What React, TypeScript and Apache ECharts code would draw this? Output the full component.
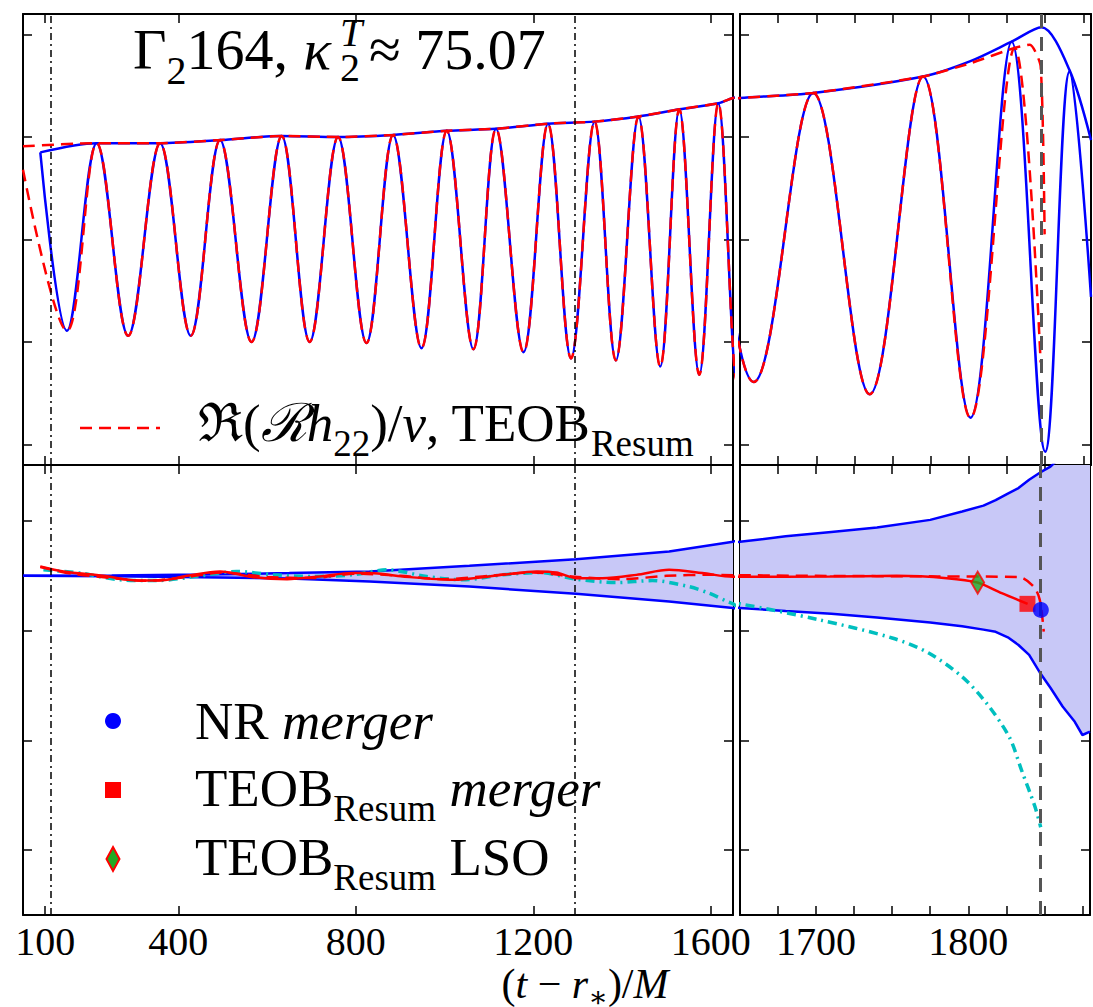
import React, { useEffect, useRef } from "react";
import * as echarts from "echarts";

const FONT = "'Liberation Serif', 'DejaVu Serif', serif";
const BLUE = "#0000ff";
const RED = "#ff0000";
const CYAN = "#00bfbf";
const BAND_FILL = "#c8c8f7";

// ---------- axes ----------
const inspiralMin = 50;
const inspiralMax = 1650;
const mergerMin = 1650;
const mergerMax = 1880;
const mergerTickStep = 25;
const inspiralTicks = [100, 400, 800, 1200, 1600];
const waveYMin = -2.2;
const waveYMax = 2.2;
const waveTicks = [-2, -1, 0, 1, 2];
const phaseYMin = -3.09;
const phaseYMax = 1.01;
const phaseTicks = [0.5, -0.5, -1.5, -2.5];
const alignWindow = [113, 1294];
const tMergerNR = 1847.5;

// ---------- top panels: Re(R h22)/nu ----------
// NR waveform, peaks and troughs
const nrWaveT = [89, 149, 216, 287, 359, 428, 494, 565, 633, 696, 760, 824, 884, 948, 1005, 1065, 1116, 1178, 1233, 1285, 1338, 1386, 1437, 1486, 1529, 1574, 1617, 1659, 1698, 1735, 1770, 1801, 1828, 1850, 1866, 1880];
const nrWaveH = [0.85, -0.89, 0.94, -0.94, 0.94, -0.94, 0.97, -1.0, 1.01, -1.0, 1.0, -1.01, 1.02, -1.06, 1.06, -1.07, 1.08, -1.1, 1.13, -1.16, 1.15, -1.18, 1.2, -1.24, 1.27, -1.32, 1.33, -1.39, 1.43, -1.51, 1.59, -1.74, 1.93, -2.07, 1.64, -0.56];
// NR amplitude
const nrAmpT = [89, 216, 359, 494, 633, 760, 884, 1005, 1116, 1233, 1338, 1437, 1529, 1617, 1650, 1698, 1770, 1801, 1828, 1847.5, 1866, 1880];
const nrAmp = [0.85, 0.94, 0.94, 0.97, 1.01, 1.0, 1.02, 1.06, 1.08, 1.13, 1.15, 1.2, 1.27, 1.33, 1.38, 1.43, 1.59, 1.74, 1.93, 2.07, 1.65, 0.97];
// TEOBResum waveform
const teobWaveT = [50, 149, 216, 287, 359, 428, 494, 565, 633, 696, 760, 824, 884, 948, 1005, 1065, 1116, 1178, 1233, 1285, 1338, 1386, 1437, 1486, 1529, 1574, 1617, 1659, 1698, 1735, 1770, 1801, 1830, 1847];
const teobWaveH = [0.68, -0.89, 0.94, -0.94, 0.94, -0.94, 0.97, -1.0, 1.01, -1.0, 1.0, -1.01, 1.02, -1.06, 1.06, -1.07, 1.08, -1.1, 1.13, -1.16, 1.15, -1.18, 1.2, -1.24, 1.27, -1.32, 1.33, -1.39, 1.43, -1.51, 1.59, -1.74, 1.87, -1.2];
// TEOBResum amplitude
const teobAmpT = [50, 216, 359, 494, 633, 760, 884, 1005, 1116, 1233, 1338, 1437, 1529, 1617, 1650, 1698, 1770, 1801, 1830, 1840, 1847, 1849.6];
const teobAmp = [0.91, 0.94, 0.94, 0.97, 1.01, 1.0, 1.02, 1.06, 1.08, 1.13, 1.15, 1.2, 1.27, 1.33, 1.38, 1.43, 1.59, 1.72, 1.87, 1.9, 1.69, 0.05];

// ---------- bottom panels: phase difference ----------
const bandT = [50, 250, 450, 650, 831, 1056, 1296, 1506, 1650, 1680, 1710, 1740, 1775, 1796, 1810, 1818, 1826, 1833, 1840, 1847, 1854, 1862, 1870, 1875, 1880];
const bandUp = [0, 0.004, 0.012, 0.025, 0.039, 0.091, 0.152, 0.222, 0.31, 0.36, 0.4, 0.44, 0.51, 0.587, 0.64, 0.69, 0.75, 0.8, 0.876, 0.94, 0.995, 1.1, 1.25, 1.38, 1.5];
const bandLo = [0, -0.004, -0.012, -0.025, -0.052, -0.098, -0.164, -0.234, -0.292, -0.32, -0.345, -0.38, -0.425, -0.46, -0.49, -0.51, -0.56, -0.63, -0.72, -0.88, -1.02, -1.19, -1.33, -1.45, -1.42];

const redT = [89, 141, 231, 307, 359, 420, 494, 568, 645, 719, 793, 831, 906, 1018, 1131, 1207, 1252, 1297, 1356, 1432, 1506, 1581, 1650, 1709, 1753, 1786, 1806, 1822, 1839];
const redV = [0.085, 0.04, 0, -0.043, -0.043, 0, 0.04, -0.012, -0.03, -0.006, 0.025, 0.025, -0.006, -0.036, 0.009, 0.04, 0.03, -0.021, -0.021, 0.009, 0.055, 0.025, -0.009, -0.006, 0, -0.021, -0.061, -0.158, -0.255];

const redDashT = [89, 160, 250, 330, 420, 500, 600, 700, 800, 900, 1000, 1100, 1200, 1300, 1400, 1500, 1600, 1700, 1780, 1833, 1843, 1847, 1849.6];
const redDashV = [0.08, 0.02, -0.02, -0.045, -0.01, 0.03, -0.01, -0.02, 0.02, 0.0, -0.03, 0.0, 0.03, -0.01, -0.03, 0.0, 0.01, 0.0, -0.005, -0.01, -0.098, -0.219, -0.508];

const cyanT = [96, 179, 269, 351, 449, 531, 614, 704, 794, 870, 960, 1041, 1131, 1214, 1297, 1387, 1468, 1551, 1596, 1637, 1650, 1702, 1750, 1774, 1796, 1812, 1827, 1835, 1844, 1847.6];
const cyanV = [0.055, 0.025, -0.036, -0.043, 0, 0.04, 0.01, -0.006, 0.01, 0.055, -0.006, -0.036, 0.009, 0.03, -0.03, -0.061, -0.043, -0.098, -0.158, -0.234, -0.255, -0.4, -0.566, -0.703, -0.92, -1.16, -1.47, -1.77, -2.11, -2.29];

const nrMerger = [1847.7, -0.31];
const teobMerger = [1838.9, -0.255];
const teobLSO = [1806.2, -0.061];

const pairs = (ts: number[], vs: number[]) => ts.map((t, i) => [t, vs[i]]);

const labelStyle = { fontFamily: FONT, fontSize: 40, lineHeight: 40, color: "#000", margin: 6 };
const axisLine = { show: true, onZero: false, lineStyle: { color: "#000", width: 2 } };
const tick = (extra: any) => ({ show: true, inside: true, length: 9, lineStyle: { color: "#000", width: 1.5 }, ...extra });

function xAxisFor(gridIndex: number, position: string, inspiral: boolean, labels: boolean) {
  const base: any = {
    type: "value",
    gridIndex,
    position,
    axisLine,
    splitLine: { show: false },
    min: inspiral ? inspiralMin : mergerMin,
    max: inspiral ? inspiralMax : mergerMax,
  };
  if (inspiral) {
    return {
      ...base,
      axisTick: tick({ customValues: inspiralTicks }),
      axisLabel: { show: labels, customValues: inspiralTicks, formatter: (v: number) => String(v), ...labelStyle },
    };
  }
  return {
    ...base,
    interval: mergerTickStep,
    axisTick: tick({}),
    axisLabel: { show: labels, showMinLabel: false, formatter: (v: number) => (v % 100 === 0 ? String(v) : ""), ...labelStyle },
  };
}

function yAxisFor(gridIndex: number, position: string, wave: boolean) {
  return {
    type: "value",
    gridIndex,
    position,
    axisLine,
    splitLine: { show: false },
    min: wave ? waveYMin : phaseYMin,
    max: wave ? waveYMax : phaseYMax,
    axisTick: tick({ customValues: wave ? waveTicks : phaseTicks }),
    axisLabel: { show: false },
  };
}

const lineS = (xi: number, data: any[], color: string, type: any, width: number, smooth: any, extra: any = {}) => ({
  type: "line",
  xAxisIndex: xi,
  yAxisIndex: xi,
  data,
  symbol: "none",
  smooth,
  silent: true,
  lineStyle: { color, width, type },
  ...extra,
});

const alignMark = {
  silent: true,
  symbol: ["none", "none"],
  label: { show: false },
  lineStyle: { color: "#000", width: 1.5, type: [7, 4, 2, 4] },
  data: alignWindow.map((t) => ({ xAxis: t })),
};
const mergerMark = {
  silent: true,
  symbol: ["none", "none"],
  label: { show: false },
  lineStyle: { color: "#555", width: 3, type: [14, 9] },
  data: [{ xAxis: tMergerNR }],
};

const bandSeries = (xi: number) => ({
  type: "custom",
  xAxisIndex: xi,
  yAxisIndex: xi,
  clip: true,
  silent: true,
  data: [[bandT[0], bandUp[0]]],
  renderItem: (params: any, api: any) => {
    const pts: number[][] = [];
    for (let i = 0; i < bandT.length; i++) pts.push(api.coord([bandT[i], bandUp[i]]));
    for (let i = bandT.length - 1; i >= 0; i--) pts.push(api.coord([bandT[i], bandLo[i]]));
    return { type: "polygon", shape: { points: pts }, style: { fill: BAND_FILL, stroke: null } };
  },
});

function topSeries(xi: number, mark: any) {
  return [
    lineS(xi, pairs(nrWaveT, nrWaveH), BLUE, "solid", 2.5, 0.36, { markLine: mark }),
    lineS(xi, pairs(nrAmpT, nrAmp), BLUE, "solid", 2.5, 0.3),
    lineS(xi, pairs(teobWaveT, teobWaveH), RED, [12, 7], 2.5, 0.36),
    lineS(xi, pairs(teobAmpT, teobAmp), RED, [12, 7], 2.5, 0.2),
  ];
}

function bottomSeries(xi: number, mark: any) {
  return [
    bandSeries(xi),
    lineS(xi, pairs(bandT, bandUp), BLUE, "solid", 2.5, false, { markLine: mark }),
    lineS(xi, pairs(bandT, bandLo), BLUE, "solid", 2.5, false),
    lineS(xi, pairs(cyanT, cyanV), CYAN, [9, 5, 2, 5], 3.5, 0.3),
    lineS(xi, pairs(redDashT, redDashV), RED, [12, 7], 2.5, 0.3),
    lineS(xi, pairs(redT, redV), RED, "solid", 2.5, 0.3),
  ];
}

const markerSeries = [
  { type: "scatter", xAxisIndex: 6, yAxisIndex: 6, silent: true, symbol: "diamond", symbolSize: [13, 22], data: [teobLSO], itemStyle: { color: "#22aa22", borderColor: RED, borderWidth: 2 }, z: 5 },
  { type: "scatter", xAxisIndex: 6, yAxisIndex: 6, silent: true, symbol: "rect", symbolSize: 16, data: [teobMerger], itemStyle: { color: RED }, z: 5 },
  { type: "scatter", xAxisIndex: 6, yAxisIndex: 6, silent: true, symbol: "circle", symbolSize: 16, data: [nrMerger], itemStyle: { color: BLUE }, z: 5 },
];

// text helpers: main tokens with a fixed line height; subscripts lowered by top padding
// (token height = lh + pad stays within the main line height)
const txt = (size: number, lh: number, style = "normal") => ({ fontFamily: FONT, fontSize: size, lineHeight: lh, fontStyle: style, fill: "#000" });
const sub = (size: number, lh: number, pad: number) => ({ ...txt(size, lh), padding: [pad, 0, 0, 0] });

const graphics: any[] = [
  {
    type: "text",
    x: 133,
    y: 49,
    style: {
      text: "{n|Γ}{s|2}{n|164,}",
      verticalAlign: "middle",
      align: "left",
      rich: { n: txt(58, 60), s: sub(40, 18, 42) },
    },
  },
  { type: "text", x: 331, y: 49, style: { text: "κ", verticalAlign: "middle", align: "right", ...txt(58, 60, "italic") } },
  { type: "text", x: 340, y: 32, style: { text: "T", verticalAlign: "middle", align: "left", ...txt(40, 26, "italic") } },
  { type: "text", x: 340, y: 67, style: { text: "2", verticalAlign: "middle", align: "left", ...txt(40, 26) } },
  { type: "text", x: 369, y: 49, style: { text: "≈ 75.07", verticalAlign: "middle", align: "left", ...txt(58, 60) } },
  {
    type: "line",
    shape: { x1: 80, y1: 428, x2: 160, y2: 428 },
    style: { stroke: RED, lineWidth: 2.5, lineDash: [12, 7] },
  },
  {
    type: "text",
    x: 198,
    y: 423,
    style: {
      text: "{n|ℜ(}{c|ℛ}{i|h}{s|22}{n|)/}{i|ν}{n|, TEOB}{s|Resum}",
      verticalAlign: "middle",
      align: "left",
      rich: { n: txt(53, 56), c: txt(53, 56, "italic"), i: txt(53, 56, "italic"), s: sub(37, 16, 40) },
    },
  },
  { type: "circle", shape: { cx: 113, cy: 721, r: 8 }, style: { fill: BLUE } },
  {
    type: "text",
    x: 195,
    y: 721,
    style: { text: "{n|NR }{i|merger}", verticalAlign: "middle", align: "left", rich: { n: txt(53, 56), i: txt(53, 56, "italic") } },
  },
  { type: "rect", shape: { x: 105, y: 782, width: 16, height: 16 }, style: { fill: RED } },
  {
    type: "text",
    x: 195,
    y: 788,
    style: {
      text: "{n|TEOB}{s|Resum}{n| }{i|merger}",
      verticalAlign: "middle",
      align: "left",
      rich: { n: txt(53, 56), i: txt(53, 56, "italic"), s: sub(37, 16, 40) },
    },
  },
  {
    type: "polygon",
    shape: { points: [[113, 847], [119.5, 859], [113, 871], [106.5, 859]] },
    style: { fill: "#22aa22", stroke: RED, lineWidth: 2 },
  },
  {
    type: "text",
    x: 195,
    y: 857,
    style: {
      text: "{n|TEOB}{s|Resum}{n| LSO}",
      verticalAlign: "middle",
      align: "left",
      rich: { n: txt(53, 56), s: sub(37, 16, 40) },
    },
  },
  {
    type: "text",
    x: 585,
    y: 984,
    style: {
      text: "{n|(}{i|t}{n| − }{i|r}{s|∗}{n|)/}{i|M}",
      verticalAlign: "middle",
      align: "center",
      rich: { n: txt(42, 36), i: txt(42, 36, "italic"), s: sub(29, 10, 26) },
    },
  },
];

function buildOption() {
  return {
    animation: false,
    backgroundColor: "#fff",
    textStyle: { fontFamily: FONT },
    grid: [
      { left: 23, top: 14, width: 710, height: 451 },
      { left: 740, top: 14, width: 351, height: 451 },
      { left: 23, top: 465, width: 710, height: 450 },
      { left: 740, top: 465, width: 351, height: 450 },
    ],
    xAxis: [
      xAxisFor(0, "bottom", true, false),
      xAxisFor(0, "top", true, false),
      xAxisFor(1, "bottom", false, false),
      xAxisFor(1, "top", false, false),
      xAxisFor(2, "bottom", true, true),
      xAxisFor(2, "top", true, false),
      xAxisFor(3, "bottom", false, true),
      xAxisFor(3, "top", false, false),
    ],
    yAxis: [
      yAxisFor(0, "left", true),
      yAxisFor(0, "right", true),
      yAxisFor(1, "left", true),
      yAxisFor(1, "right", true),
      yAxisFor(2, "left", false),
      yAxisFor(2, "right", false),
      yAxisFor(3, "left", false),
      yAxisFor(3, "right", false),
    ],
    series: [
      ...topSeries(0, alignMark),
      ...topSeries(2, mergerMark),
      ...bottomSeries(4, alignMark),
      ...bottomSeries(6, mergerMark),
      ...markerSeries,
    ],
    graphic: graphics,
  };
}

export default function App() {
  const ref = useRef<HTMLDivElement>(null);
  useEffect(() => {
    document.body.style.margin = "0";
    const chart = echarts.init(ref.current as HTMLDivElement, null, { renderer: "svg" });
    chart.setOption(buildOption() as any);
    return () => chart.dispose();
  }, []);
  return (
    <div
      ref={ref}
      style={{ position: "absolute", left: 0, top: 0, width: 1093, height: 1007, background: "#fff" }}
    />
  );
}
